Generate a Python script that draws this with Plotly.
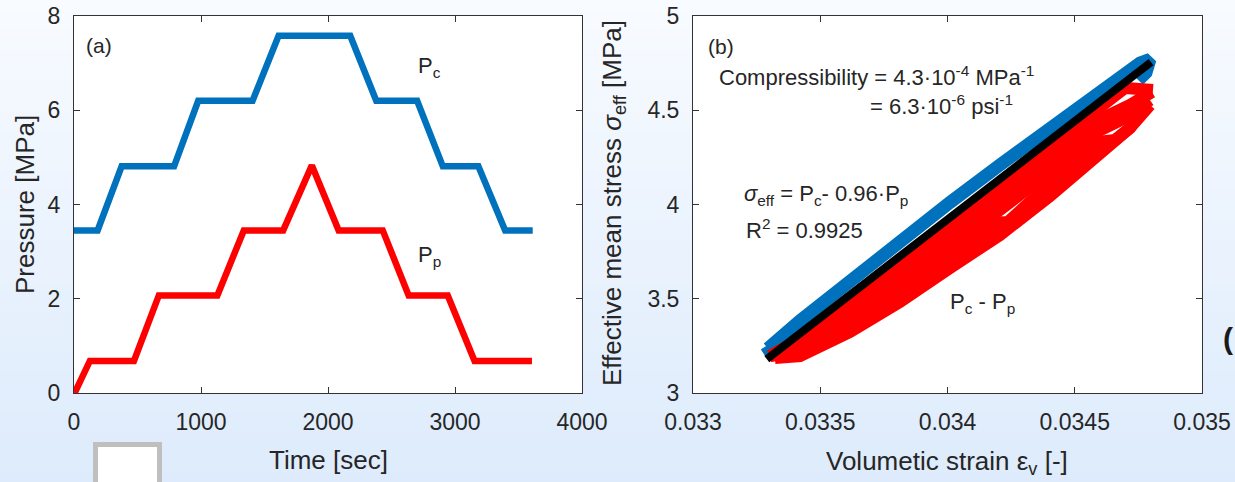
import plotly.graph_objects as go

# ---------------- data ----------------
# panel (a): pressures vs time
time_pc = [0, 186, 375, 788, 978, 1406, 1611, 2175, 2380, 2702, 2904, 3184, 3395, 3612]
pc_vals = [3.45, 3.45, 4.81, 4.81, 6.20, 6.20, 7.58, 7.58, 6.20, 6.20, 4.81, 4.81, 3.45, 3.45]

time_pp = [5, 125, 472, 668, 1129, 1337, 1647, 1873, 2084, 2431, 2635, 2943, 3154, 3606]
pp_vals = [0.0, 0.68, 0.68, 2.07, 2.07, 3.45, 3.45, 4.83, 3.45, 3.45, 2.07, 2.07, 0.68, 0.68]

# panel (b): effective stress vs volumetric strain
blue_strain = [0.033288, 0.0332947, 0.0334204, 0.0336169, 0.0338133, 0.0340098,
               0.0342062, 0.0344027, 0.0345991, 0.0347563, 0.0347956, 0.0347800, 0.0347500]
blue_stress = [3.250, 3.236, 3.383, 3.597, 3.807, 4.011,
               4.210, 4.408, 4.602, 4.751, 4.770, 4.700, 4.660]

red_strain_a = [0.0333025, 0.0334204, 0.0336169, 0.0338133, 0.0340098, 0.0342062,
                0.0344027, 0.0345991, 0.0346973, 0.0348074]
red_stress_a = [3.196, 3.288, 3.491, 3.695, 3.900, 4.103, 4.308, 4.512, 4.618, 4.607]

red_strain_b = [0.0333025, 0.0334204, 0.0336169, 0.0338133, 0.0340098, 0.0342062,
                0.0344027, 0.0345991, 0.0347170, 0.0348035]
red_stress_b = [3.196, 3.265, 3.449, 3.642, 3.840, 4.037, 4.242, 4.452, 4.528, 4.597]

red_strain_c = [0.0333025, 0.0334204, 0.0336169, 0.0338133, 0.0340098, 0.0342062,
                0.0344027, 0.0345991, 0.0346973, 0.0347956]
red_stress_c = [3.196, 3.242, 3.407, 3.589, 3.781, 3.971, 4.176, 4.393, 4.459, 4.554]

red_strain_d = [0.0333025, 0.0334204, 0.0336169, 0.0338133, 0.0340098, 0.0342062,
                0.0342377, 0.0344027, 0.0345991, 0.0346580, 0.0347170, 0.0347563]
red_stress_d = [3.196, 3.219, 3.366, 3.536, 3.722, 3.905, 3.907, 4.111, 4.333, 4.342, 4.406, 4.491]

red_strain_e = [0.033322, 0.0334204, 0.0336169, 0.0338133, 0.0340098, 0.0342062,
                0.0344027, 0.0345991, 0.0347170, 0.0347956]
red_stress_e = [3.186, 3.196, 3.324, 3.483, 3.663, 3.838, 4.045, 4.273, 4.406, 4.528]

fit_strain = [0.03329, 0.03480]
fit_stress = [3.180, 4.755]

BLUE = "#0072BD"
RED = "#FF0000"
FONT = "Liberation Sans, Arial, sans-serif"
TXT = "#262626"

fig = go.Figure()

fig.add_trace(go.Scatter(x=time_pc, y=pc_vals, mode="lines",
                         line=dict(color=BLUE, width=6.5), xaxis="x", yaxis="y"))
fig.add_trace(go.Scatter(x=time_pp, y=pp_vals, mode="lines",
                         line=dict(color=RED, width=6.5), xaxis="x", yaxis="y"))

fig.add_trace(go.Scatter(x=blue_strain, y=blue_stress, mode="lines",
                         line=dict(color=BLUE, width=13), xaxis="x2", yaxis="y2"))
for xs, ys in [(red_strain_e, red_stress_e), (red_strain_d, red_stress_d),
               (red_strain_c, red_stress_c), (red_strain_b, red_stress_b),
               (red_strain_a, red_stress_a)]:
    fig.add_trace(go.Scatter(x=xs, y=ys, mode="lines",
                             line=dict(color=RED, width=12), xaxis="x2", yaxis="y2"))
fig.add_trace(go.Scatter(x=fit_strain, y=fit_stress, mode="lines",
                         line=dict(color="black", width=8), xaxis="x2", yaxis="y2"))

W, H = 1235, 482
def px(x):
    return x / W
def py(y):
    return (H - y) / H

ax_common = dict(showline=True, mirror="ticks", linecolor="#333333", linewidth=1,
                 ticks="inside", ticklen=6, tickcolor="#333333", showgrid=False,
                 zeroline=False, automargin=False,
                 tickfont=dict(family=FONT, size=23, color=TXT))

fig.update_layout(
    width=W, height=H, margin=dict(l=0, r=0, t=0, b=0, pad=0, autoexpand=False),
    paper_bgcolor="#EEF4FD", plot_bgcolor="white", showlegend=False,
    xaxis=dict(domain=[px(74), px(582)], range=[0, 4000], tickvals=[0, 1000, 2000, 3000, 4000],
               anchor="y", ticklabelstandoff=8, **ax_common),
    yaxis=dict(domain=[py(393), py(16)], range=[0, 8], tickvals=[0, 2, 4, 6, 8],
               anchor="x", ticklabelstandoff=8, **ax_common),
    xaxis2=dict(domain=[px(693), px(1202)], range=[0.033, 0.035],
                tickvals=[0.033, 0.0335, 0.034, 0.0345, 0.035],
                ticktext=["0.033", "0.0335", "0.034", "0.0345", "0.035"],
                anchor="y2", ticklabelstandoff=8, **ax_common),
    yaxis2=dict(domain=[py(393), py(16)], range=[3, 5], tickvals=[3, 3.5, 4, 4.5, 5],
                ticktext=["3", "3.5", "4", "4.5", "5"],
                anchor="x2", ticklabelstandoff=8, **ax_common),
)

# background vertical gradient (white-ish at top to light blue at bottom)
shapes = []
n = 48
top = (0xF8, 0xFB, 0xFF)
bot = (0xDD, 0xEB, 0xFC)
for i in range(n):
    f = (i + 0.5) / n
    c = tuple(round(top[k] + (bot[k] - top[k]) * f) for k in range(3))
    shapes.append(dict(type="rect", xref="paper", yref="paper", x0=0, x1=1,
                       y0=1 - (i + 1) / n - 0.002, y1=1 - i / n,
                       fillcolor="rgb(%d,%d,%d)" % c, line=dict(width=0), layer="below"))
for xr, yr in [("x domain", "y domain"), ("x2 domain", "y2 domain")]:
    shapes.append(dict(type="rect", xref=xr, yref=yr, x0=0, x1=1, y0=0, y1=1,
                       fillcolor="white", line=dict(width=0), layer="below"))
# grey outlined box at bottom left
shapes.append(dict(type="rect", xref="paper", yref="paper", x0=px(95.5), x1=px(159.5),
                   y0=-0.1, y1=py(444.5), fillcolor="white",
                   line=dict(color="#BFBFBF", width=5), layer="above"))
fig.update_layout(shapes=shapes)

ann = []
def A(text, x, y, xref="paper", yref="paper", size=22, xanchor="center", yanchor="middle", angle=0, **kw):
    ann.append(dict(text=text, x=x, y=y, xref=xref, yref=yref, showarrow=False,
                    xanchor=xanchor, yanchor=yanchor, textangle=angle,
                    font=dict(family=FONT, size=size, color=kw.get("color", TXT))))

# axis titles
A("Time [sec]", px(328), py(460), size=26)
A("Volumetic strain ε<sub>v</sub> [-]", px(947), py(462), size=26)
A("Pressure [MPa]", px(25), py(205), size=26, angle=-90)
A("Effective mean stress <i>σ</i><sub>eff</sub> [MPa]", px(614), py(203), size=26, angle=-90)

# panel (a) labels
A("(a)", 200, 7.38, "x", "y", size=21)
A("P<sub>c</sub>", 2690, 6.92, "x", "y", size=22, xanchor="left")
A("P<sub>p</sub>", 2690, 2.90, "x", "y", size=22, xanchor="left")

# panel (b) labels
A("(b)", 0.03311, 4.84, "x2", "y2", size=21)
A("Compressibility = 4.3·10<sup>-4</sup> MPa<sup>-1</sup>", 0.0330943, 4.68, "x2", "y2", xanchor="left")
A("= 6.3·10<sup>-6</sup> psi<sup>-1</sup>", 0.0336876, 4.53, "x2", "y2", xanchor="left")
A("<i>σ</i><sub>eff</sub> = P<sub>c</sub>- 0.96·P<sub>p</sub>", 0.0331925, 4.05, "x2", "y2", xanchor="left")
A("R<sup>2</sup> = 0.9925", 0.0332004, 3.87, "x2", "y2", xanchor="left")
A("P<sub>c</sub> - P<sub>p</sub>", 0.0340019, 3.48, "x2", "y2", xanchor="left")

# cut-off character at the right edge
A("<b>(</b>", 1.0, py(338), size=30, xanchor="right", color="#1a1a1a")

fig.update_layout(annotations=ann)
fig.write_html("out.html")
